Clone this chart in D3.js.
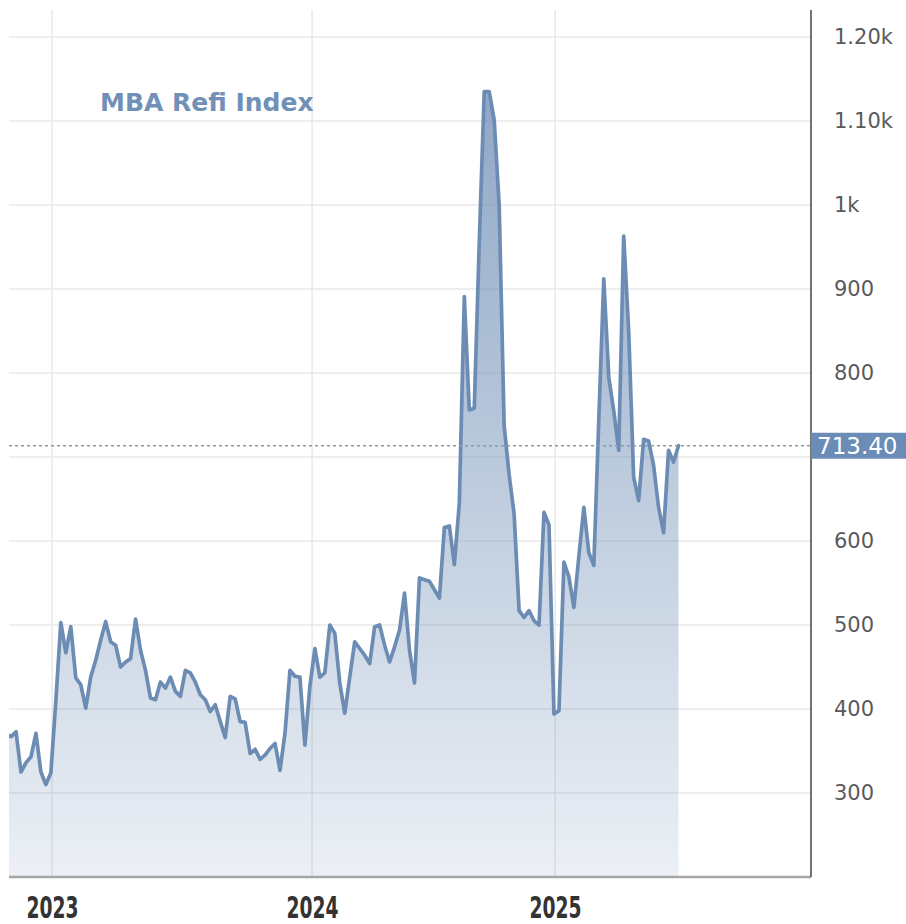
<!DOCTYPE html>
<html>
<head>
<meta charset="utf-8">
<script src="https://cdn.jsdelivr.net/npm/d3@7/dist/d3.min.js"></script>
<style>
  html, body { margin: 0; padding: 0; background: #ffffff; }
  svg { display: block; }
</style>
</head>
<body>
<div id="chart"></div>
<script>
// ---- Data (weekly MBA Refinance Index) ----
const refiValues = [
  370, 367, 373, 325, 336, 343, 371, 325, 310, 324,
  410, 503, 467, 498, 437, 429, 401, 438, 458, 482,
  504, 480, 476, 450, 456, 460, 507, 470, 446, 413,
  411, 432, 425, 438, 421, 415, 446, 443, 432, 417,
  411, 397, 405, 385, 366, 415, 412, 385, 384, 347,
  352, 340, 345, 353, 359, 327, 371, 446, 439, 438,
  357, 427, 472, 438, 443, 500, 490, 431, 395, 438,
  480, 472, 464, 454, 498, 500, 476, 456, 474, 494,
  538, 470, 431, 556, 554, 552, 542, 532, 616, 618,
  572, 645, 891, 756, 758, 955, 1135, 1135, 1101, 1000,
  737, 679, 632, 517, 509, 517, 505, 500, 634, 619,
  394, 398, 575, 557, 521, 582, 640, 586, 571, 745,
  912, 795, 755, 708, 963, 850, 676, 648, 721, 719,
  690, 640, 610, 708, 694, 713.4
];
const lastValue = 713.40;
const lastLabel = "713.40";

const yearLabels = ["2023", "2024", "2025"];
const yearWeekPos = [9.23, 61.44, 110.23];   // position of year ticks in week index units
const xDomainEnd = 161.6;                     // week index at right axis

const yTickValues = [300, 400, 500, 600, 700, 800, 900, 1000, 1100, 1200];
const yTickLabels = ["300", "400", "500", "600", "", "800", "900", "1k", "1.10k", "1.20k"];

const title = "MBA Refi Index";

// ---- Layout ----
const W = 906, H = 924;
const plotLeft = 9, plotRight = 811, plotTop = 10, plotBottom = 877;
const lineColor = "#6c8cb4";

const svg = d3.select("#chart").append("svg")
  .attr("width", W).attr("height", H);

const x = d3.scaleLinear().domain([0, xDomainEnd]).range([6.04, plotRight]);
const y = d3.scaleLinear().domain([200, 1200]).range([plotBottom, 37]);

const defs = svg.append("defs");
defs.append("clipPath").attr("id", "plotClip")
  .append("rect")
  .attr("x", plotLeft).attr("y", plotTop)
  .attr("width", plotRight - plotLeft).attr("height", plotBottom - plotTop);

const grad = defs.append("linearGradient")
  .attr("id", "areaGrad")
  .attr("gradientUnits", "userSpaceOnUse")
  .attr("x1", 0).attr("x2", 0)
  .attr("y1", y(1160)).attr("y2", y(200));
grad.append("stop").attr("offset", "0%").attr("stop-color", lineColor).attr("stop-opacity", 0.78);
grad.append("stop").attr("offset", "100%").attr("stop-color", lineColor).attr("stop-opacity", 0.13);

// ---- Grid ----
const grid = svg.append("g");
grid.selectAll("line.h")
  .data(yTickValues)
  .join("line")
  .attr("class", "h")
  .attr("x1", plotLeft).attr("x2", plotRight)
  .attr("y1", d => y(d)).attr("y2", d => y(d))
  .attr("stroke", "#e8e8e8").attr("stroke-width", 1.5);

grid.selectAll("line.v")
  .data(yearWeekPos)
  .join("line")
  .attr("class", "v")
  .attr("x1", d => x(d)).attr("x2", d => x(d))
  .attr("y1", plotTop).attr("y2", plotBottom)
  .attr("stroke", "#e8e8e8").attr("stroke-width", 1.5);

// ---- Area + line ----
const plot = svg.append("g").attr("clip-path", "url(#plotClip)");

const area = d3.area()
  .x((d, i) => x(i))
  .y0(y(200))
  .y1(d => y(d));

const line = d3.line()
  .x((d, i) => x(i))
  .y(d => y(d));

plot.append("path")
  .datum(refiValues)
  .attr("d", area)
  .attr("fill", "url(#areaGrad)");

plot.append("path")
  .datum(refiValues)
  .attr("d", line)
  .attr("fill", "none")
  .attr("stroke", lineColor)
  .attr("stroke-width", 3.7)
  .attr("stroke-linejoin", "round")
  .attr("stroke-linecap", "round");

// ---- Last value dashed line ----
svg.append("line")
  .attr("x1", plotLeft).attr("x2", plotRight)
  .attr("y1", y(lastValue)).attr("y2", y(lastValue))
  .attr("stroke", "#8a9bb0")
  .attr("stroke-width", 1.5)
  .attr("stroke-dasharray", "3,3");

// ---- Axes lines ----
svg.append("line")
  .attr("x1", plotLeft).attr("x2", plotRight)
  .attr("y1", plotBottom).attr("y2", plotBottom)
  .attr("stroke", "#a6a6a6").attr("stroke-width", 2.5);

svg.append("line")
  .attr("x1", plotRight).attr("x2", plotRight)
  .attr("y1", plotTop).attr("y2", plotBottom)
  .attr("stroke", "#444").attr("stroke-width", 1.5);

// ---- Right axis labels ----
const yAxis = d3.axisRight(y)
  .tickValues(yTickValues)
  .tickSize(0)
  .tickPadding(23)
  .tickFormat((d, i) => yTickLabels[i]);

const yAxisG = svg.append("g")
  .attr("transform", `translate(${plotRight},0)`)
  .call(yAxis);
yAxisG.select(".domain").remove();
yAxisG.selectAll("text")
  .attr("fill", "#5a5a5a")
  .style("font-family", "'DejaVu Sans', Verdana, sans-serif")
  .style("font-size", "21px");

// ---- Last value label ----
const lbl = svg.append("g").attr("transform", `translate(${plotRight},${y(lastValue)})`);
lbl.append("rect")
  .attr("x", 0).attr("y", -13)
  .attr("width", W - plotRight).attr("height", 26)
  .attr("fill", "#6a8cb6");
lbl.append("text")
  .attr("x", 6).attr("y", 0).attr("dy", "0.36em")
  .attr("fill", "#ffffff")
  .style("font-family", "'DejaVu Sans', Verdana, sans-serif")
  .style("font-size", "23px")
  .text(lastLabel);

// ---- Bottom axis labels ----
const xAxis = d3.axisBottom(x)
  .tickValues(yearWeekPos)
  .tickSize(0)
  .tickPadding(20)
  .tickFormat((d, i) => yearLabels[i]);

const xAxisG = svg.append("g")
  .attr("transform", `translate(0,${plotBottom})`)
  .call(xAxis);
xAxisG.select(".domain").remove();
xAxisG.selectAll("text")
  .attr("fill", "#333")
  .attr("dy", "0.71em")
  .attr("textLength", 52)
  .attr("lengthAdjust", "spacingAndGlyphs")
  .style("font-family", "'DejaVu Sans Condensed', 'Liberation Sans Narrow', sans-serif")
  .style("font-weight", "bold")
  .style("font-size", "30px");

// ---- Title ----
svg.append("text")
  .attr("x", 100).attr("y", 111)
  .attr("fill", "#7090b8")
  .style("font-family", "'DejaVu Sans', Verdana, sans-serif")
  .style("font-weight", "bold")
  .style("font-size", "25px")
  .text(title);
</script>
</body>
</html>
